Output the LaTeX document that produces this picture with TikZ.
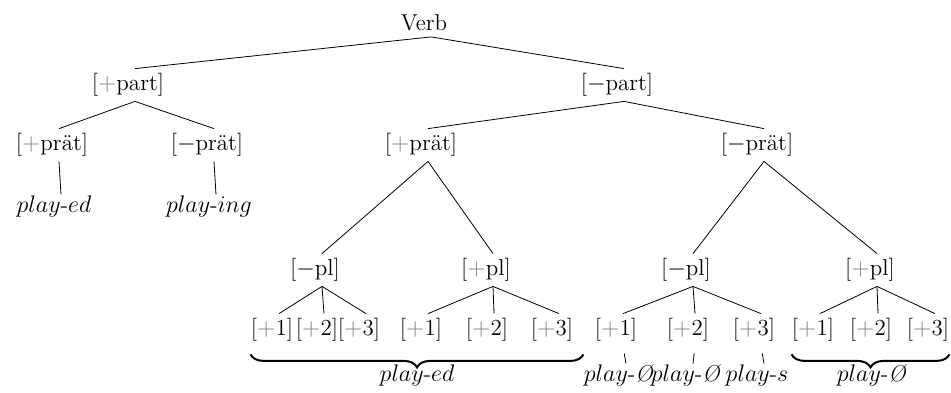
\documentclass[tikz,border=0pt]{standalone}
\usetikzlibrary{decorations.pathreplacing}

\newcommand{\gplus}{\textcolor{gray}{$+$}}
\newcommand{\mns}{$-$}

\begin{document}
\begin{tikzpicture}[x=0.5pt, y=-0.5pt, font=\fontsize{11.5}{14}\selectfont, branch/.style={draw=black, line width=0.4pt, transform canvas={xshift=3.5pt}}]

% styles
\tikzset{
  feat/.style={inner xsep=0pt, inner ysep=3pt, text height=0.75em, text depth=0.25em},
  leaf/.style={inner xsep=0pt, inner ysep=1pt, text height=0.75em, text depth=0.25em},
  stub/.style={branch, shorten <=3.5pt},
  bracebelow/.style={decorate, decoration={brace, mirror, amplitude=6.5pt}, line width=1pt}
}

\useasboundingbox (0,0) rectangle (951,392);

% feature nodes, placed at fixed coordinates
\node[feat, text depth=0pt] (verb) at (424,23) {Verb};

\node[feat] (partP) at (128,85) {[\gplus part]};
\node[feat] (partM) at (617,85) {[\mns part]};

\node[feat] (praetPA) at (52,145) {[\gplus prät]};
\node[feat] (praetMA) at (207,145) {[\mns prät]};
\node[feat] (praetPB) at (421,145) {[\gplus prät]};
\node[feat] (praetMB) at (757,145) {[\mns prät]};

\node[leaf] (edA) at (54,207) {$play$-$ed$};
\node[leaf] (ingA) at (209,207) {$play$-$ing$};

\node[feat] (plMA) at (315,270) {[\mns pl]};
\node[feat] (plPA) at (486,270) {[\gplus pl]};
\node[feat] (plMB) at (686,270) {[\mns pl]};
\node[feat] (plPB) at (870,270) {[\gplus pl]};

% person nodes
\node[feat] (pA1) at (272,330) {[\gplus 1]};
\node[feat] (pA2) at (317,330) {[\gplus 2]};
\node[feat] (pA3) at (359,330) {[\gplus 3]};
\node[feat] (pB1) at (421,330) {[\gplus 1]};
\node[feat] (pB2) at (487,330) {[\gplus 2]};
\node[feat] (pB3) at (552,330) {[\gplus 3]};
\node[feat] (pC1) at (616,330) {[\gplus 1]};
\node[feat] (pC2) at (688,330) {[\gplus 2]};
\node[feat] (pC3) at (754,330) {[\gplus 3]};
\node[feat] (pD1) at (813,330) {[\gplus 1]};
\node[feat] (pD2) at (871,330) {[\gplus 2]};
\node[feat] (pD3) at (928,330) {[\gplus 3]};

% bottom forms
\node[leaf] (edAB) at (417,376) {$play$-$ed$};
\node[leaf] (zC1) at (619,376) {$play$-\textit{Ø}};
\node[leaf] (zC2) at (686,376) {$play$-\textit{Ø}};
\node[leaf] (sC3) at (757,376) {$play$-$s$};
\node[leaf] (zD) at (872,376) {$play$-\textit{Ø}};

% branches
\draw[branch] (verb.south) -- (partP.north);
\draw[branch] (verb.south) -- (partM.north);
\draw[branch] (partP.south) -- (praetPA.north);
\draw[branch] (partP.south) -- (praetMA.north);
\draw[branch] (partM.south) -- (praetPB.north);
\draw[branch] (partM.south) -- (praetMB.north);
\draw[branch] (praetPA.south) -- (edA.north);
\draw[branch] (praetMA.south) -- (ingA.north);
\draw[branch] (praetPB.south) -- (plMA.north);
\draw[branch] (praetPB.south) -- (plPA.north);
\draw[branch] (praetMB.south) -- (plMB.north);
\draw[branch] (praetMB.south) -- (plPB.north);
\foreach \parnode/\grp in {plMA/A, plPA/B, plMB/C, plPB/D}
  \foreach \i in {1,2,3}
    \draw[branch] (\parnode.south) -- (p\grp\i.north);

% short links to the single forms
\draw[stub] (pC1.south) -- (zC1.north);
\draw[stub] (pC2.south) -- (zC2.north);
\draw[stub] (pC3.south) -- (sC3.north);

% braces over shared forms
\draw[bracebelow] ([yshift=-4pt]pA1.south west) -- ([xshift=5pt,yshift=-4pt]pB3.south east);
\draw[bracebelow] ([yshift=-4pt]pD1.south west) -- ([yshift=-4pt]pD3.south east);

\end{tikzpicture}
\end{document}
